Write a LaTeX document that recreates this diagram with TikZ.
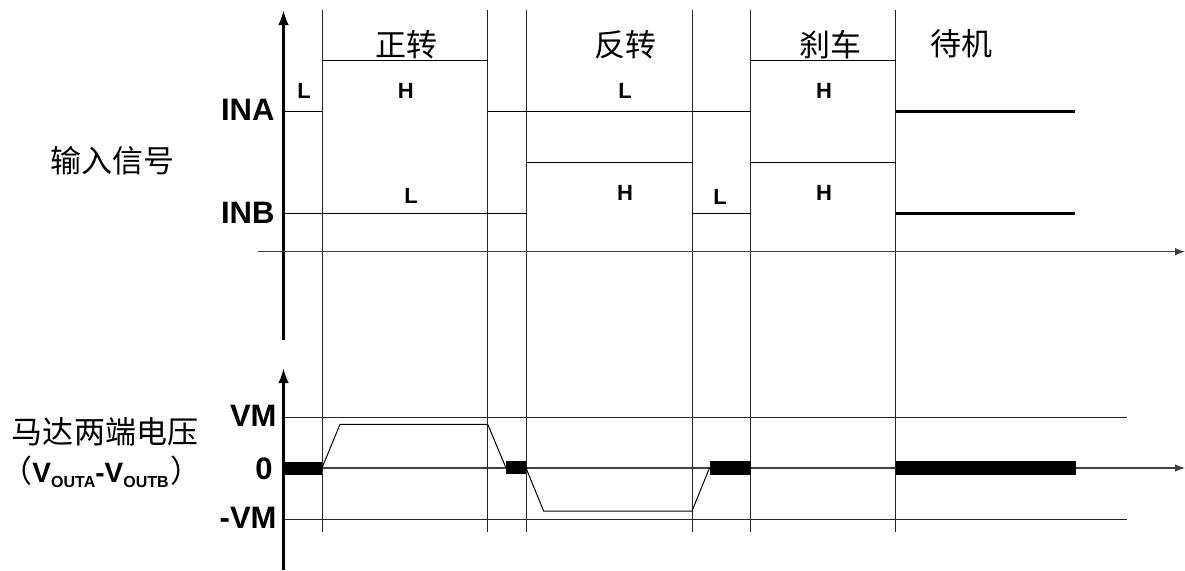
\documentclass[tikz,border=0pt]{standalone}
\usepackage{fontspec}
\setmainfont{Liberation Sans}
\newfontfamily\cjk{Noto Sans CJK SC}
\usetikzlibrary{arrows.meta}
\newcommand{\lvltxt}[3]{\node[font=\bfseries\fontsize{22}{22}\selectfont,inner sep=0pt] at (#1) (#2) {#3}}
\newcommand{\modetxt}[3]{\node[font=\cjk\fontsize{31}{31}\selectfont,inner sep=0pt] at (#1) (#2) {#3}}
\newcommand{\axtxt}[3]{\node[font=\bfseries\fontsize{31}{31}\selectfont,inner sep=0pt,anchor=east] at (#1) (#2) {#3}}
\newcommand{\subtxt}[1]{\raisebox{-5pt}{\fontsize{16}{16}\selectfont #1}}

\begin{document}
\begin{tikzpicture}[x=10pt,y=-10pt,line width=1pt,>={Latex[length=15pt,width=10.5pt]}]
					\useasboundingbox (0,0) rectangle (118.5,57);
					
					\draw[line width=2.4pt,->] (28.35,34) -- (28.35,1);
					\draw[line width=2.4pt,->] (28.35,57) -- (28.35,36.8);
					\draw[black!75,line width=1.2pt,-{Latex[length=10pt,width=7.5pt]}] (25.8,25.17) -- (118.5,25.17);
					\draw[black!75,line width=1.2pt,-{Latex[length=10pt,width=7.5pt]}] (28.35,46.8) -- (118.5,46.8);
					\draw[black!85] (28.35,41.73) -- (112.7,41.73);
					\draw[black!85] (28.35,51.9) -- (112.7,51.9);
					
					\foreach \x in {32.2,48.75,52.6,69.2,75.05,89.55}
						\draw[black!85] (\x,1) -- (\x,53.2);
					
					\draw (28.35,11.17) -- (32.2,11.17);
					\draw (32.2,6.07) -- (48.75,6.07);
					\draw (48.75,11.17) -- (75.05,11.17);
					\draw (75.05,6.07) -- (89.55,6.07);
					\draw[line width=3.5pt] (89.55,11.17) -- (107.5,11.17);
					
					\draw (28.35,21.33) -- (52.6,21.33);
					\draw (52.6,16.27) -- (69.2,16.27);
					\draw (69.2,21.33) -- (75.05,21.33);
					\draw (75.05,16.27) -- (89.55,16.27);
					\draw[line width=3.5pt] (89.55,21.33) -- (107.5,21.33);
					
					\fill (28.35,46.2) rectangle (32.2,47.45);
					\draw (32.2,46.8) -- (34,42.43) -- (48.77,42.43) -- (50.6,46.8);
					\fill (50.6,46.05) rectangle (52.6,47.35);
					\draw (52.6,46.8) -- (54.36,51.1) -- (69.2,51.1) -- (70.95,46.8);
					\fill (70.95,46.1) rectangle (75.05,47.5);
					\fill (89.55,46.1) rectangle (107.6,47.5);
					
					\modetxt{40.67,4.5}{fwd}{正转};
					\modetxt{62.5,4.47}{rev}{反转};
					\modetxt{83,4.47}{brk}{刹车};
					\modetxt{96.15,4.4}{stby}{待机};
					\modetxt{11.2,16.1}{insig}{输入信号};
					\modetxt{10.5,43.17}{vmot}{马达两端电压};
					\node[inner sep=0pt,anchor=west] at (0.1,47.2) (vdiff) {{\cjk\fontsize{31}{31}\selectfont （}{\bfseries\fontsize{28}{28}\selectfont V\subtxt{OUTA}-V\subtxt{OUTB}}\kern2pt{\cjk\fontsize{31}{31}\selectfont ）}};
					
					\axtxt{27.5,11}{ina}{INA};
					\axtxt{27.5,21.25}{inb}{INB};
					\axtxt{27.7,41.6}{vm}{VM};
					\axtxt{27.3,46.9}{zero}{0};
					\axtxt{27.7,51.8}{nvm}{-VM};
					
					\lvltxt{30.4,9.12}{inaL1}{L};
					\lvltxt{40.58,9.1}{inaH1}{H};
					\lvltxt{62.5,9.1}{inaL2}{L};
					\lvltxt{82.4,9.1}{inaH2}{H};
					\lvltxt{41.1,19.55}{inbL1}{L};
					\lvltxt{62.5,19.3}{inbH1}{H};
					\lvltxt{72,19.7}{inbL2}{L};
					\lvltxt{82.4,19.3}{inbH2}{H};
				\end{tikzpicture}
\end{document}
